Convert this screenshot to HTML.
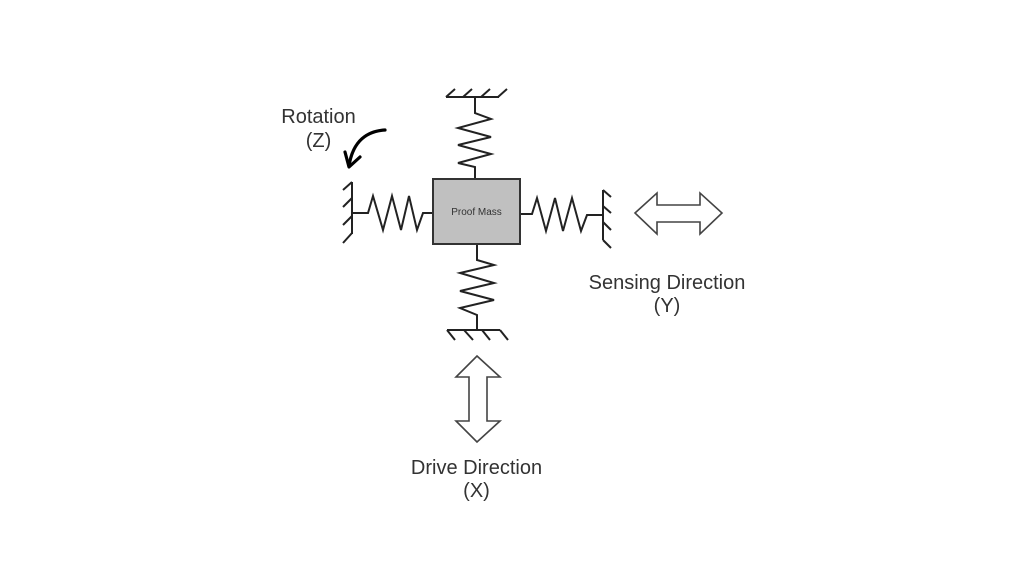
<!DOCTYPE html>
<html>
<head>
<meta charset="utf-8">
<style>
html,body{margin:0;padding:0;background:#fff;}
svg{display:block;}
text{font-family:"Liberation Sans",Arial,sans-serif;fill:#333;}
</style>
</head>
<body>
<svg width="1024" height="576" viewBox="0 0 1024 576" xmlns="http://www.w3.org/2000/svg">
<rect x="0" y="0" width="1024" height="576" fill="#fff"/>
<g fill="none" stroke="#222" stroke-width="2" stroke-linejoin="miter">
  <!-- Top ground -->
  <line x1="446" y1="97" x2="499" y2="97"/>
  <line x1="446" y1="97" x2="455" y2="89"/>
  <line x1="463" y1="97" x2="472" y2="89"/>
  <line x1="481" y1="97" x2="490" y2="89"/>
  <line x1="498" y1="97" x2="507" y2="89"/>
  <!-- Top spring -->
  <polyline points="475,97 475,113 491,119 458,128 491,137 458,145 491,154 458,163 475,167 475,179"/>
  <!-- Bottom spring -->
  <polyline points="477,244 477,260 494,265 460,273 494,283 460,291 494,300 460,308 477,315 477,330"/>
  <!-- Bottom ground -->
  <line x1="447" y1="330" x2="500" y2="330"/>
  <line x1="447" y1="330" x2="455" y2="340"/>
  <line x1="464" y1="330" x2="473" y2="340"/>
  <line x1="482" y1="330" x2="490" y2="340"/>
  <line x1="500" y1="330" x2="508" y2="340"/>
  <!-- Left wall -->
  <line x1="352" y1="182" x2="352" y2="234"/>
  <line x1="352" y1="182" x2="343" y2="190"/>
  <line x1="352" y1="198" x2="343" y2="207"/>
  <line x1="352" y1="216" x2="343" y2="225"/>
  <line x1="352" y1="233" x2="343" y2="243"/>
  <!-- Left spring -->
  <polyline points="352,213 368,213 373,196 383,230 392,196 401,230 409,196 417,230 423,213 433,213"/>
  <!-- Right spring -->
  <polyline points="520,214 532,214 537,198 546,231 555,198 563,231 572,198 581,231 587,215 603,215"/>
  <!-- Right wall -->
  <line x1="603" y1="190" x2="603" y2="240"/>
  <line x1="603" y1="190" x2="611" y2="197"/>
  <line x1="603" y1="206" x2="611" y2="213"/>
  <line x1="603" y1="222" x2="611" y2="230"/>
  <line x1="603" y1="240" x2="611" y2="248"/>
</g>
<!-- Proof mass -->
<rect x="433" y="179" width="87" height="65" fill="#c0c0c0" stroke="#333" stroke-width="2"/>
<text x="476.5" y="215" font-size="10" text-anchor="middle" fill="#444">Proof Mass</text>

<!-- Horizontal double arrow -->
<polygon points="635,213 657,193 657,205 700,205 700,193 722,213 700,234 700,222 657,222 657,234" fill="#fff" stroke="#444" stroke-width="1.6" stroke-linejoin="miter"/>
<!-- Vertical double arrow -->
<polygon points="477,356 500,377 487,377 487,421 500,421 477,442 456,421 469,421 469,377 456,377" fill="#fff" stroke="#444" stroke-width="1.6" stroke-linejoin="miter"/>

<!-- Rotation arrow -->
<g fill="none" stroke="#000" stroke-width="3.2" stroke-linecap="round" stroke-linejoin="round">
  <path d="M385,130 C368,131 353,140 349,166"/>
  <polyline points="345,152 349,167 360,157"/>
</g>

<!-- Labels -->
<text x="318.5" y="123" font-size="20" text-anchor="middle">Rotation</text>
<text x="318.5" y="147" font-size="20" text-anchor="middle">(Z)</text>
<text x="667" y="289" font-size="20" text-anchor="middle">Sensing Direction</text>
<text x="667" y="312" font-size="20" text-anchor="middle">(Y)</text>
<text x="476.5" y="474" font-size="20" text-anchor="middle">Drive Direction</text>
<text x="476.5" y="497" font-size="20" text-anchor="middle">(X)</text>
</svg>
</body>
</html>
